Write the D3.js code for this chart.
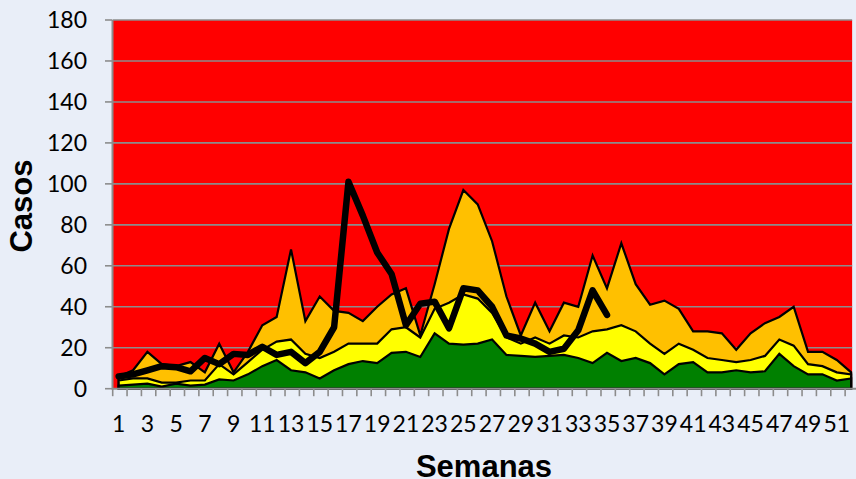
<!DOCTYPE html>
<html>
<head>
<meta charset="utf-8">
<script src="https://cdn.jsdelivr.net/npm/d3@7"></script>
<style>
  html, body { margin: 0; padding: 0; background: #E9EEF8; }
  svg { display: block; }
</style>
</head>
<body>
<script>
// ---- data ----
const weeks = d3.range(1, 53);
// upper quartile (alert zone top)
const alertTop = [6, 9, 18, 12, 11, 13, 8, 22, 8, 18, 31, 35, 68, 33, 45, 38, 37, 33, 40, 46,
  49, 26, 51, 78, 97, 90, 72, 45, 26, 42, 28, 42, 40, 65, 49, 71, 51, 41, 43, 39,
  28, 28, 27, 19, 27, 32, 35, 40, 18, 18, 14, 8];
// median (security zone top)
const securityTop = [4, 5, 5, 3, 3, 4, 4, 12, 7, 13, 19, 23, 24, 17, 15, 18, 22, 22, 22, 29,
  30, 25, 39, 42, 46, 44, 37, 25, 22, 25, 22, 26, 25, 28, 29, 31, 28, 22, 17, 22,
  19, 15, 14, 13, 14, 16, 24, 21, 12, 11, 8, 7];
// lower quartile (success zone top)
const successTop = [1.5, 2, 2.5, 1, 2.5, 1.5, 2, 4.5, 4, 7, 11, 14, 9, 8, 5, 9, 12, 13.5, 12.5, 17.5,
  18, 15.5, 27, 22, 21.5, 22, 24, 16.5, 16, 15.5, 16, 16.5, 15, 12.5, 17.5, 13.5, 15, 12.5, 7, 12,
  13, 8, 8, 9, 8, 8.5, 17, 11, 7, 7, 4, 5];
// current year cases (weeks 1-35)
const cases = [6, 7, 9, 11, 10.5, 8.5, 15, 12, 17, 16.5, 20.5, 16.5, 18, 12.5, 18, 30, 101, 84.5, 66.5, 56,
  31, 41.5, 42.5, 29.5, 49, 48, 40, 26, 24.5, 22, 18, 19.5, 28.5, 48, 36];
const yTicks = [0, 20, 40, 60, 80, 100, 120, 140, 160, 180];
const xTickLabels = weeks.filter(w => w % 2 === 1);
const yTitle = "Casos";
const xTitle = "Semanas";

// ---- layout ----
const W = 856, H = 479;
const svg = d3.select("body").append("svg").attr("width", W).attr("height", H);
svg.append("rect").attr("width", W).attr("height", H).attr("fill", "#E9EEF8");

const x = d3.scaleLinear().domain([0.5, 52.5]).range([111.5, 858.3]);
const y = d3.scaleLinear().domain([0, 180]).range([388.7, 20]);

// red epidemic zone
svg.append("rect")
  .attr("x", 113).attr("y", y(180))
  .attr("width", x(52) + 1 - 113).attr("height", y(0) - y(180))
  .attr("fill", "#FF0000");

// gridlines
svg.append("g").selectAll("line").data(yTicks.filter(t => t > 0)).join("line")
  .attr("x1", 113).attr("x2", x(52) + 1)
  .attr("y1", d => y(d)).attr("y2", d => y(d))
  .attr("stroke", "#8C8C8C").attr("stroke-width", 1.6);

// areas
const areaGen = d3.area().x((d, i) => x(weeks[i])).y0(y(0)).y1(d => y(d));
[[alertTop, "#FFC000"], [securityTop, "#FFFF00"], [successTop, "#008000"]].forEach(([s, c]) => {
  svg.append("path").datum(s).attr("d", areaGen)
    .attr("fill", c).attr("stroke", "#000").attr("stroke-width", 2.2)
    .attr("stroke-linejoin", "miter");
});

// axes lines
svg.append("line").attr("x1", 112.5).attr("x2", 112.5).attr("y1", y(180)).attr("y2", y(0) + 1)
  .attr("stroke", "#8C8C8C").attr("stroke-width", 2);
svg.append("line").attr("x1", 112).attr("x2", 858).attr("y1", y(0)).attr("y2", y(0))
  .attr("stroke", "#8C8C8C").attr("stroke-width", 2);

// y ticks
svg.append("g").selectAll("line").data(yTicks).join("line")
  .attr("x1", 105).attr("x2", 112.5)
  .attr("y1", d => y(d)).attr("y2", d => y(d))
  .attr("stroke", "#8C8C8C").attr("stroke-width", 1.6);
svg.append("g").selectAll("text").data(yTicks).join("text")
  .attr("x", 87).attr("y", d => y(d)).attr("dy", "0.36em")
  .attr("text-anchor", "end")
  .attr("font-family", "Lato, 'Open Sans', sans-serif").attr("font-size", 23)
  .attr("fill", "#000").text(d => d);

// x ticks (category boundaries)
svg.append("g").selectAll("line").data(d3.range(0.5, 53, 1)).join("line")
  .attr("x1", d => x(d) + 1.2).attr("x2", d => x(d) + 1.2)
  .attr("y1", y(0)).attr("y2", y(0) + 7.5)
  .attr("stroke", "#8C8C8C").attr("stroke-width", 1.6);
svg.append("g").selectAll("text").data(xTickLabels).join("text")
  .attr("x", d => x(d)).attr("y", 432)
  .attr("text-anchor", "middle")
  .attr("font-family", "Lato, 'Open Sans', sans-serif").attr("font-size", 23)
  .attr("fill", "#000").text(d => d);

// cases line
const lineGen = d3.line().x((d, i) => x(weeks[i])).y(d => y(d));
svg.append("path").datum(cases).attr("d", lineGen)
  .attr("fill", "none").attr("stroke", "#000").attr("stroke-width", 6.5)
  .attr("stroke-linejoin", "round").attr("stroke-linecap", "round");

// titles
svg.append("text").attr("x", 484).attr("y", 477).attr("text-anchor", "middle")
  .attr("font-family", "'Liberation Sans', Arial, sans-serif").attr("font-weight", "bold")
  .attr("font-size", 31).attr("fill", "#000").text(xTitle);
svg.append("text").attr("transform", "translate(32,206) rotate(-90)").attr("text-anchor", "middle")
  .attr("font-family", "'Liberation Sans', Arial, sans-serif").attr("font-weight", "bold")
  .attr("font-size", 31).attr("fill", "#000").text(yTitle);
</script>
</body>
